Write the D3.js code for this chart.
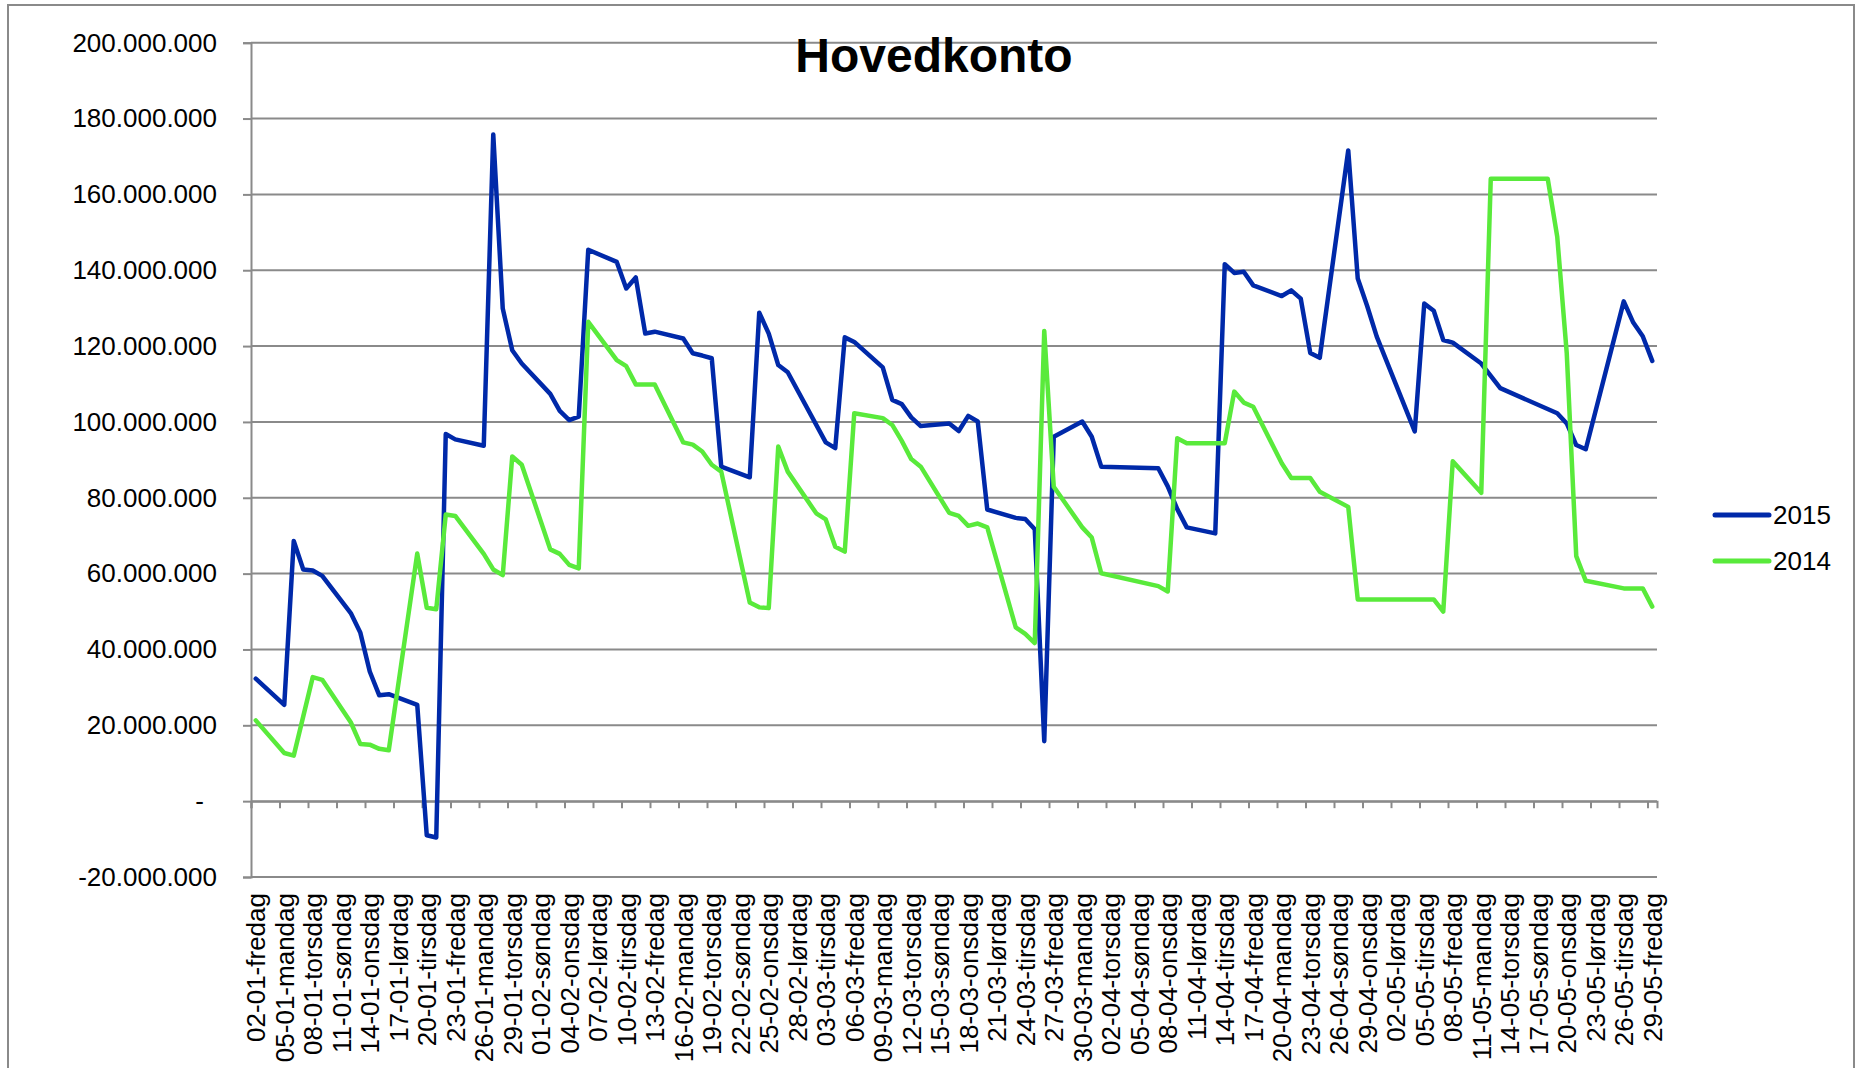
<!DOCTYPE html>
<html>
<head>
<meta charset="utf-8">
<script src="https://cdnjs.cloudflare.com/ajax/libs/d3/7.8.5/d3.min.js"></script>
<style>
  body { margin: 0; background: #fff; }
  svg { display: block; font-family: "Liberation Sans", Arial, sans-serif; }
</style>
</head>
<body>
<div id="graph"></div>
<script>

// **** data ****
var chartTitle = "Hovedkonto";
var seriesNames = ["2015", "2014"];
var seriesColors = ["#0029a9", "#59ea3b"];

var dates2015 = ["02-01","05-01","06-01","07-01","08-01","09-01","12-01","13-01","14-01","15-01","16-01",
  "19-01","20-01","21-01","22-01","23-01","26-01","27-01","28-01","29-01","30-01",
  "02-02","03-02","04-02","05-02","06-02","09-02","10-02","11-02","12-02","13-02",
  "16-02","17-02","18-02","19-02","20-02","23-02","24-02","25-02","26-02","27-02",
  "03-03","04-03","05-03","06-03","09-03","10-03","11-03","12-03","13-03",
  "16-03","17-03","18-03","19-03","20-03","23-03","24-03","25-03","26-03","27-03",
  "30-03","31-03","01-04","07-04","08-04","09-04","10-04",
  "13-04","14-04","15-04","16-04","17-04","20-04","21-04","22-04","23-04","24-04",
  "27-04","28-04","29-04","30-04","04-05","05-05","06-05","07-05","08-05",
  "11-05","13-05","19-05","20-05","21-05","22-05","26-05","27-05","28-05","29-05"];
var values2015 = [32.3,25.4,68.6,61.1,60.8,59.4,49.6,44.5,34.2,27.9,28.2,
  25.4,-9.0,-9.6,96.8,95.4,93.7,175.8,129.9,118.9,115.4,
  107.4,102.9,100.5,101.4,145.4,142.2,135.2,138.1,123.3,123.8,
  122.0,118.1,117.5,116.8,88.2,85.4,128.8,123.3,115.0,113.1,
  94.6,93.1,122.3,121.1,114.4,105.8,104.7,101.2,98.9,
  99.6,97.6,101.6,100.1,76.9,74.7,74.4,71.7,15.8,96.1,
  100.1,96.1,88.2,87.8,83.0,77.0,72.2,
  70.6,141.6,139.3,139.6,136.0,133.2,134.7,132.5,118.2,116.9,
  171.6,137.8,130.5,122.5,97.5,131.2,129.3,121.6,120.9,
  115.4,108.9,102.3,99.6,93.9,92.8,131.8,126.2,122.6,116.1];

var dates2014 = ["02-01","05-01","06-01","08-01","09-01","12-01","13-01","14-01","15-01","16-01",
  "19-01","20-01","21-01","22-01","23-01","26-01","27-01","28-01","29-01","30-01",
  "02-02","03-02","04-02","05-02","06-02","09-02","10-02","11-02","13-02",
  "16-02","17-02","18-02","19-02","20-02","23-02","24-02","25-02","26-02","27-02",
  "02-03","03-03","04-03","05-03","06-03","09-03","10-03","11-03","12-03","13-03",
  "16-03","17-03","18-03","19-03","20-03","23-03","24-03","25-03","26-03","27-03",
  "30-03","31-03","01-04","07-04","08-04","09-04","10-04",
  "13-04","14-04","15-04","16-04","17-04","20-04","21-04","23-04","24-04",
  "27-04","28-04","06-05","07-05","08-05",
  "11-05","12-05","18-05","19-05","20-05","21-05","22-05","26-05","28-05","29-05"];
var values2014 = [21.3,12.7,12.0,32.7,32.0,20.8,15.1,14.9,13.8,13.4,
  65.3,51.0,50.6,75.6,75.2,65.2,61.1,59.6,90.9,88.7,
  66.4,65.2,62.3,61.4,126.4,116.3,114.7,109.9,109.9,
  94.6,94.0,92.2,88.7,86.9,52.4,51.1,50.9,93.5,86.9,
  75.9,74.3,67.1,65.8,102.3,101.0,99.2,95.0,90.2,88.2,
  76.0,75.2,72.6,73.2,72.2,45.8,44.1,41.7,124.0,82.9,
  72.2,69.5,60.1,56.7,55.3,95.7,94.4,
  94.4,94.4,108.0,105.1,104.0,89.1,85.2,85.2,81.6,
  77.6,53.2,53.2,50.0,89.6,
  81.3,164.1,164.1,148.8,118.1,64.6,58.1,56.1,56.1,51.3];

var yTicks = [-20e6, 0, 20e6, 40e6, 60e6, 80e6, 100e6, 120e6, 140e6, 160e6, 180e6, 200e6];

var tickLabels = ["02-01-fredag","05-01-mandag","08-01-torsdag","11-01-søndag","14-01-onsdag",
  "17-01-lørdag","20-01-tirsdag","23-01-fredag","26-01-mandag","29-01-torsdag",
  "01-02-søndag","04-02-onsdag","07-02-lørdag","10-02-tirsdag","13-02-fredag",
  "16-02-mandag","19-02-torsdag","22-02-søndag","25-02-onsdag","28-02-lørdag",
  "03-03-tirsdag","06-03-fredag","09-03-mandag","12-03-torsdag","15-03-søndag",
  "18-03-onsdag","21-03-lørdag","24-03-tirsdag","27-03-fredag","30-03-mandag",
  "02-04-torsdag","05-04-søndag","08-04-onsdag","11-04-lørdag","14-04-tirsdag",
  "17-04-fredag","20-04-mandag","23-04-torsdag","26-04-søndag","29-04-onsdag",
  "02-05-lørdag","05-05-tirsdag","08-05-fredag","11-05-mandag","14-05-torsdag",
  "17-05-søndag","20-05-onsdag","23-05-lørdag","26-05-tirsdag","29-05-fredag"];

// **** layout ****
var graphWidth = 1859;
var graphHeight = 1068;
var plot = {left: 251, right: 1657, top: 42.7, bottom: 877};
var gridColor = "#8a8a8a";

var parseDay = d3.timeParse("%d-%m-%Y");
function dayOf(s) { return parseDay(s + "-2015"); }
function midDay(s) { return d3.timeHour.offset(dayOf(s), 12); }

var startDate = dayOf("02-01");
var endDate = d3.timeDay.offset(dayOf("29-05"), 1);

var timeScale = d3.scaleTime()
    .domain([startDate, endDate])
    .range([plot.left, plot.right]);

var yScale = d3.scaleLinear()
    .domain([-20e6, 200e6])
    .range([plot.bottom, plot.top]);

// norwegian style thousands, plain hyphen for minus
var nok = d3.formatLocale({decimal: ",", thousands: ".", grouping: [3], currency: ["", ""], minus: "-"}).format(",d");

function toSeries(dates, vals) {
  return dates.map(function(d, i) { return {date: midDay(d), value: vals[i] * 1e6}; });
}
var allSeries = [toSeries(dates2015, values2015), toSeries(dates2014, values2014)];

var graphCanvas = d3.select("#graph")
    .append("svg")
    .attr("width", graphWidth)
    .attr("height", graphHeight);

graphCanvas.append("rect")
    .attr("width", graphWidth).attr("height", graphHeight)
    .attr("fill", "#fff");

// outer chart frame
graphCanvas.append("rect")
    .attr("x", 8).attr("y", 5)
    .attr("width", 1846).attr("height", 1120)
    .attr("fill", "none")
    .attr("stroke", gridColor)
    .attr("stroke-width", 2);

// horizontal gridlines
graphCanvas.append("g")
    .selectAll("line")
    .data(yTicks)
    .join("line")
      .attr("x1", plot.left).attr("x2", plot.right)
      .attr("y1", function(d) { return yScale(d); })
      .attr("y2", function(d) { return yScale(d); })
      .attr("stroke", gridColor)
      .attr("stroke-width", 2);

// y axis
var yAxisArea = graphCanvas.append("g")
    .attr("transform", "translate(" + plot.left + ",0)")
    .call(d3.axisLeft(yScale)
      .tickValues(yTicks)
      .tickSize(8)
      .tickPadding(26)
      .tickFormat(function(d) { return d === 0 ? "-" : nok(d); }));
yAxisArea.select(".domain").attr("stroke", gridColor).attr("stroke-width", 2);
yAxisArea.selectAll(".tick line").attr("stroke", gridColor).attr("stroke-width", 2);
yAxisArea.selectAll(".tick text")
    .attr("font-size", 26)
    .attr("fill", "#000")
    .attr("dx", function(d) { return d === 0 ? -13 : 0; });

// x axis tick marks every 3 days, on the zero line
var tickDates = d3.timeDay.range(startDate, endDate).filter(function(d, i) { return i % 3 === 0; });
var xAxisArea = graphCanvas.append("g")
    .attr("transform", "translate(0," + yScale(0) + ")")
    .call(d3.axisBottom(timeScale)
      .tickValues(tickDates)
      .tickSize(7)
      .tickFormat(""));
xAxisArea.select(".domain").attr("stroke", gridColor).attr("stroke-width", 2);
xAxisArea.selectAll(".tick line").attr("stroke", gridColor).attr("stroke-width", 2);

// category labels, centred on their day
var labelAxis = graphCanvas.append("g")
    .attr("transform", "translate(0,893)")
    .call(d3.axisBottom(timeScale)
      .tickValues(tickLabels.map(function(l) { return midDay(l.slice(0, 5)); }))
      .tickSize(0)
      .tickFormat(function(d, i) { return tickLabels[i]; }));
labelAxis.select(".domain").remove();
labelAxis.selectAll("text")
    .attr("y", 0)
    .attr("x", 0)
    .attr("dy", ".35em")
    .attr("transform", "rotate(-90)")
    .attr("font-size", 26)
    .attr("fill", "#000")
    .style("text-anchor", "end");

// series lines
var valueLine = d3.line()
    .x(function(d) { return timeScale(d.date); })
    .y(function(d) { return yScale(d.value); });

graphCanvas.append("g")
    .selectAll("path")
    .data(allSeries)
    .join("path")
      .attr("d", valueLine)
      .attr("fill", "none")
      .attr("stroke", function(d, i) { return seriesColors[i]; })
      .attr("stroke-width", 4.5)
      .attr("stroke-linejoin", "round")
      .attr("stroke-linecap", "round");

// title
graphCanvas.append("text")
    .attr("x", 934).attr("y", 72)
    .attr("text-anchor", "middle")
    .attr("font-size", 48)
    .attr("font-weight", "bold")
    .attr("fill", "#000")
    .text(chartTitle);

// legend
var legend = graphCanvas.append("g")
    .selectAll("g")
    .data(seriesNames)
    .join("g")
      .attr("transform", function(d, i) { return "translate(1715," + (515 + i * 46) + ")"; });
legend.append("line")
    .attr("x1", 0).attr("x2", 54)
    .attr("stroke", function(d, i) { return seriesColors[i]; })
    .attr("stroke-width", 5)
    .attr("stroke-linecap", "round");
legend.append("text")
    .attr("x", 58)
    .attr("dy", ".35em")
    .attr("font-size", 26)
    .attr("fill", "#000")
    .text(function(d) { return d; });

</script>
</body>
</html>
